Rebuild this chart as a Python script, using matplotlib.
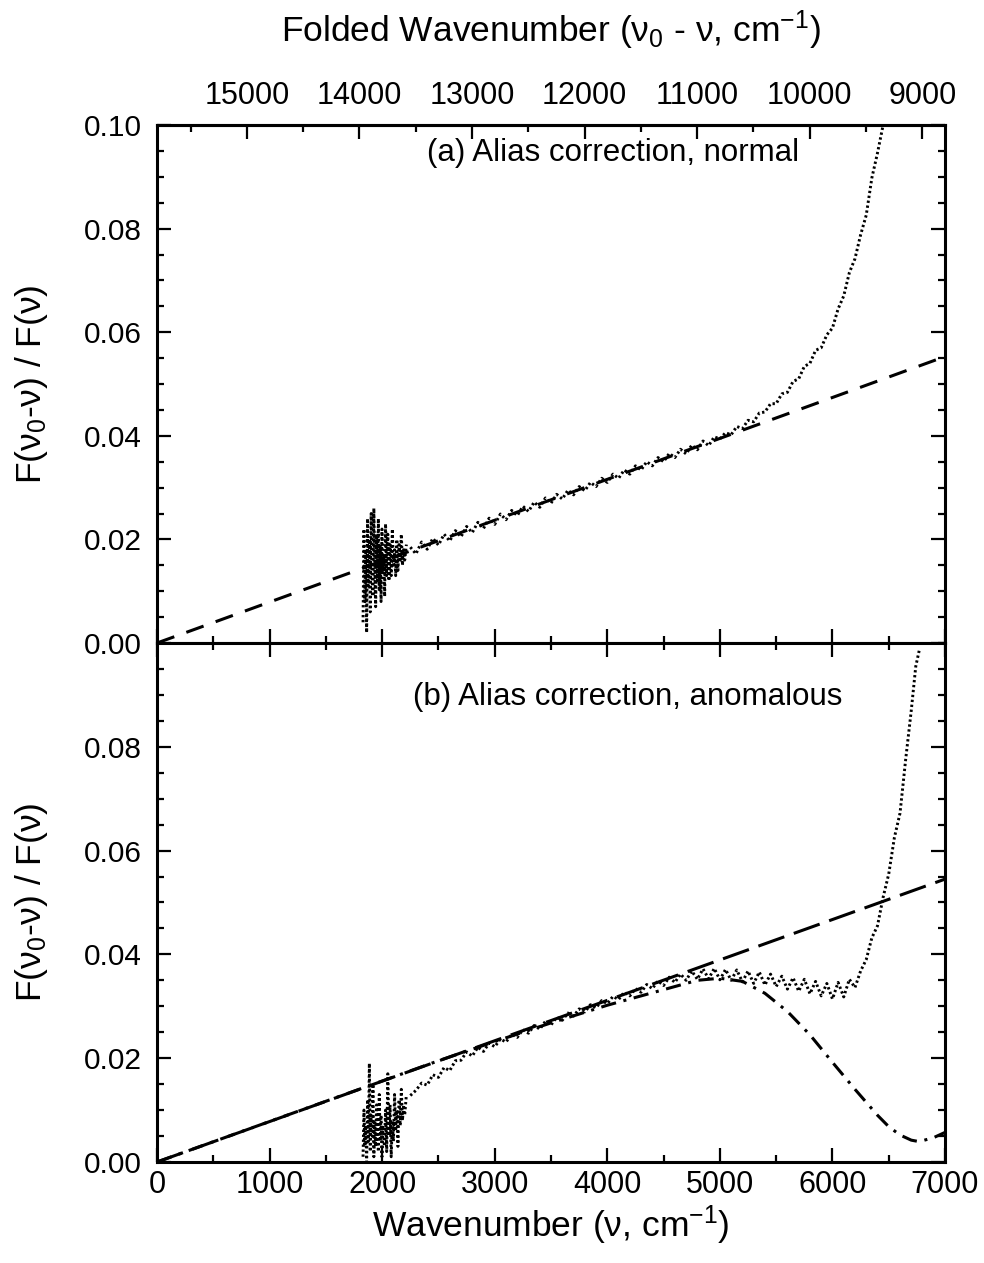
import matplotlib
matplotlib.use("Agg")
import matplotlib.pyplot as plt
from matplotlib.ticker import MultipleLocator, FixedLocator

plt.rcParams["font.family"] = ["Liberation Sans", "DejaVu Sans"]
plt.rcParams["mathtext.fontset"] = "custom"
plt.rcParams["mathtext.rm"] = "Liberation Sans"
plt.rcParams["mathtext.it"] = "Liberation Sans"
plt.rcParams["mathtext.default"] = "regular"

NU0 = 15798  # laser reference wavenumber for the folded axis

# ---- panel (a): normal alias correction ----
a_noise_x = [1830, 1838, 1846, 1854, 1862, 1870, 1878, 1886, 1894, 1902, 1910, 1918,
             1926, 1934, 1942, 1950, 1958, 1966, 1974, 1982, 1990, 1998, 2006, 2014,
             2022, 2030, 2040, 2050, 2060, 2070, 2080, 2090, 2100, 2110, 2120, 2130,
             2140, 2150, 2160, 2170, 2180, 2190, 2200, 2215]
a_noise_y = [0.004, 0.022, 0.008, 0.018, 0.002, 0.024, 0.011, 0.020, 0.006, 0.025,
             0.013, 0.009, 0.026, 0.015, 0.007, 0.021, 0.012, 0.024, 0.010, 0.019,
             0.008, 0.022, 0.014, 0.017, 0.009, 0.023, 0.013, 0.021, 0.012, 0.019,
             0.013, 0.022, 0.015, 0.018, 0.013, 0.020, 0.014, 0.019, 0.016, 0.021,
             0.015, 0.018, 0.016, 0.019]
a_x = [2250, 2300, 2350, 2400, 2450, 2500, 2550, 2600, 2650, 2700, 2750, 2800,
       2850, 2900, 2950, 3000, 3050, 3100, 3150, 3200, 3250, 3300, 3350, 3400,
       3450, 3500, 3550, 3600, 3650, 3700, 3750, 3800, 3850, 3900, 3950, 4000,
       4050, 4100, 4150, 4200, 4250, 4300, 4350, 4400, 4450, 4500, 4550, 4600,
       4650, 4700, 4750, 4800, 4850, 4900, 4950, 5000, 5050, 5100, 5150, 5200,
       5250, 5300, 5350, 5400, 5450, 5500, 5550, 5600, 5650, 5700, 5750, 5800,
       5850, 5900, 5950, 6000, 6050, 6100, 6150, 6200, 6250, 6300, 6350, 6400, 6450]
a_y = [0.0185, 0.0172, 0.0195, 0.0181, 0.0202, 0.0189, 0.0210, 0.0197, 0.0217, 0.0205,
       0.0225, 0.0213, 0.0233, 0.0221, 0.0241, 0.0229, 0.0249, 0.0238, 0.0256, 0.0246,
       0.0264, 0.0254, 0.0272, 0.0262, 0.0280, 0.0270, 0.0287, 0.0278, 0.0295, 0.0286,
       0.0302, 0.0294, 0.0310, 0.0302, 0.0318, 0.0310, 0.0326, 0.0318, 0.0334, 0.0326,
       0.0342, 0.0334, 0.0350, 0.0342, 0.0358, 0.0350, 0.0366, 0.0358, 0.0374, 0.0365,
       0.0382, 0.0373, 0.0390, 0.0381, 0.0398, 0.0394, 0.0406, 0.0402, 0.0418, 0.0414,
       0.0430, 0.0427, 0.0444, 0.0446, 0.0462, 0.0462, 0.0481, 0.0484, 0.0505, 0.0510,
       0.0534, 0.0540, 0.0565, 0.0570, 0.0595, 0.0608, 0.0645, 0.0670, 0.0715, 0.0742,
       0.0788, 0.0826, 0.0898, 0.0946, 0.1000]
a_fit_x = [0, 7000]
a_fit_y = [0.0, 0.0553]

# ---- panel (b): anomalous alias correction ----
b_noise_x = [1830, 1838, 1846, 1854, 1862, 1870, 1878, 1886, 1894, 1902, 1910, 1918,
             1926, 1934, 1942, 1950, 1958, 1966, 1974, 1982, 1990, 1998, 2006, 2020,
             2030, 2040, 2050, 2060, 2070, 2080, 2090, 2100, 2110, 2120, 2130, 2140,
             2150, 2160, 2170, 2180, 2190, 2200, 2215]
b_noise_y = [0.001, 0.010, 0.003, 0.007, 0.000, 0.012, 0.004, 0.019, 0.002, 0.009,
             0.005, 0.015, 0.001, 0.008, 0.003, 0.011, 0.006, 0.002, 0.013, 0.004,
             0.009, 0.001, 0.007, 0.003, 0.010, 0.002, 0.017, 0.005, 0.011, 0.001,
             0.008, 0.004, 0.013, 0.006, 0.010, 0.003, 0.012, 0.007, 0.014, 0.008,
             0.011, 0.009, 0.013]
b_x = [2250, 2300, 2350, 2400, 2450, 2500, 2550, 2600, 2650, 2700, 2750, 2800,
       2850, 2900, 2950, 3000, 3050, 3100, 3150, 3200, 3250, 3300, 3350, 3400,
       3450, 3500, 3550, 3600, 3650, 3700, 3750, 3800, 3850, 3900, 3950, 4000,
       4050, 4100, 4150, 4200, 4250, 4300, 4350, 4400, 4450, 4500, 4550, 4600,
       4650, 4700, 4750, 4800, 4850, 4900, 4950, 5000, 5050, 5100, 5150, 5200,
       5250, 5300, 5350, 5400, 5450, 5500, 5550, 5600, 5650, 5700, 5750, 5800,
       5850, 5900, 5950, 6000, 6050, 6100, 6150, 6200, 6250, 6300, 6350, 6400,
       6450, 6500, 6550, 6600, 6650, 6700, 6740, 6770]
b_y = [0.0128, 0.0138, 0.0152, 0.0148, 0.0168, 0.0163, 0.0182, 0.0176, 0.0195, 0.0196,
       0.0212, 0.0204, 0.0221, 0.0213, 0.0229, 0.0222, 0.0237, 0.0231, 0.0246, 0.0240,
       0.0255, 0.0248, 0.0263, 0.0256, 0.0271, 0.0264, 0.0279, 0.0273, 0.0287, 0.0281,
       0.0295, 0.0289, 0.0303, 0.0297, 0.0311, 0.0305, 0.0319, 0.0313, 0.0327, 0.0320,
       0.0334, 0.0327, 0.0342, 0.0334, 0.0349, 0.0340, 0.0356, 0.0346, 0.0362, 0.0350,
       0.0368, 0.0352, 0.0372, 0.0353, 0.0373, 0.0351, 0.0371, 0.0350, 0.0370, 0.0347,
       0.0368, 0.0344, 0.0366, 0.0341, 0.0362, 0.0338, 0.0358, 0.0333, 0.0355, 0.0329,
       0.0352, 0.0324, 0.0348, 0.0320, 0.0344, 0.0314, 0.0346, 0.0318, 0.0352, 0.0336,
       0.0368, 0.0390, 0.0432, 0.0455, 0.0510, 0.0555, 0.0625, 0.0672, 0.0775, 0.0870,
       0.0955, 0.0985]
b_fit_x = [0, 7000]
b_fit_y = [0.0, 0.0545]
b_corr_x = [0, 500, 1000, 1500, 2000, 2500, 3000, 3500, 4000, 4500, 4800, 5000,
            5200, 5400, 5600, 5800, 6000, 6200, 6400, 6500, 6600, 6700, 6750, 6800,
            6900, 7000]
b_corr_y = [0.0, 0.0039, 0.0078, 0.0117, 0.0156, 0.0195, 0.0232, 0.0268, 0.0302,
            0.0332, 0.0350, 0.0354, 0.0348, 0.0325, 0.0290, 0.0245, 0.0192, 0.0140,
            0.0090, 0.0068, 0.0052, 0.0042, 0.0040, 0.0041, 0.0047, 0.0057]

folded_ticks = [15000, 14000, 13000, 12000, 11000, 10000, 9000]
folded_minor = [15500, 14500, 13500, 12500, 11500, 10500, 9500]

XTICK_FS = 22
YTICK_FS = 21.5
LABEL_FS = 25.5
PANEL_FS = 22.5
YLABEL = "F(ν$_0$-ν) / F(ν)"

fig = plt.figure(figsize=(9.84, 12.63), dpi=100)
ax_a = fig.add_axes([0.1596, 0.4909, 0.8008, 0.4101])
ax_b = fig.add_axes([0.1596, 0.0800, 0.8008, 0.4109], sharex=ax_a)

data_style = dict(color="black", lw=2.1, ls=(0, (0.8, 0.9)))
LW = 2.2

ax_a.plot(a_noise_x, a_noise_y, **data_style)
ax_a.plot(a_x, a_y, **data_style)
ax_a.plot(a_fit_x, a_fit_y, color="black", lw=LW, ls=(0, (6, 4.2)))
ax_a.text(2400, 0.0946, "(a) Alias correction, normal", fontsize=PANEL_FS, va="center")

ax_b.plot(b_noise_x, b_noise_y, **data_style)
ax_b.plot(b_x, b_y, **data_style)
ax_b.plot(b_fit_x, b_fit_y, color="black", lw=LW, ls=(0, (9, 3.3)))
ax_b.plot(b_corr_x, b_corr_y, color="black", lw=LW, ls=(0, (5, 2.5, 1, 2.5)))
ax_b.text(2270, 0.0896, "(b) Alias correction, anomalous", fontsize=PANEL_FS, va="center")

for ax in (ax_a, ax_b):
    ax.set_xlim(0, 7000)
    ax.set_ylim(0, 0.10)
    ax.xaxis.set_major_locator(MultipleLocator(1000))
    ax.xaxis.set_minor_locator(MultipleLocator(500))
    ax.yaxis.set_major_locator(MultipleLocator(0.02))
    ax.yaxis.set_minor_locator(MultipleLocator(0.005))
    ax.tick_params(which="both", direction="in", width=1.6, left=True, right=True)
    ax.tick_params(axis="y", labelsize=YTICK_FS, pad=11)
    ax.tick_params(axis="x", labelsize=XTICK_FS, pad=6)
    ax.tick_params(which="major", length=10)
    ax.tick_params(which="minor", length=5)
    for sp in ax.spines.values():
        sp.set_linewidth(2.2)
    ax.set_ylabel(YLABEL, fontsize=LABEL_FS, labelpad=24)
    ax.yaxis.set_major_formatter(plt.FuncFormatter(lambda v, p: f"{v:.2f}"))

ax_a.tick_params(axis="x", which="both", bottom=True, top=False, labelbottom=False)
ax_b.tick_params(axis="x", which="both", bottom=True, top=True)
ax_b.set_yticks([0.0, 0.02, 0.04, 0.06, 0.08])
ax_b.set_xlabel("Wavenumber (ν, cm$^{-1}$)", fontsize=LABEL_FS, labelpad=2)

top = ax_a.secondary_xaxis("top", functions=(lambda x: NU0 - x, lambda f: NU0 - f))
top.xaxis.set_major_locator(FixedLocator(folded_ticks))
top.xaxis.set_minor_locator(FixedLocator(folded_minor))
top.tick_params(which="both", direction="in", width=1.6, labelsize=XTICK_FS, pad=10)
top.tick_params(which="major", length=10)
top.tick_params(which="minor", length=5)
top.spines["top"].set_linewidth(2.2)
top.set_xlabel("Folded Wavenumber (ν$_0$ - ν, cm$^{-1}$)", fontsize=LABEL_FS, labelpad=28)

fig.savefig("out.png", dpi=100)
